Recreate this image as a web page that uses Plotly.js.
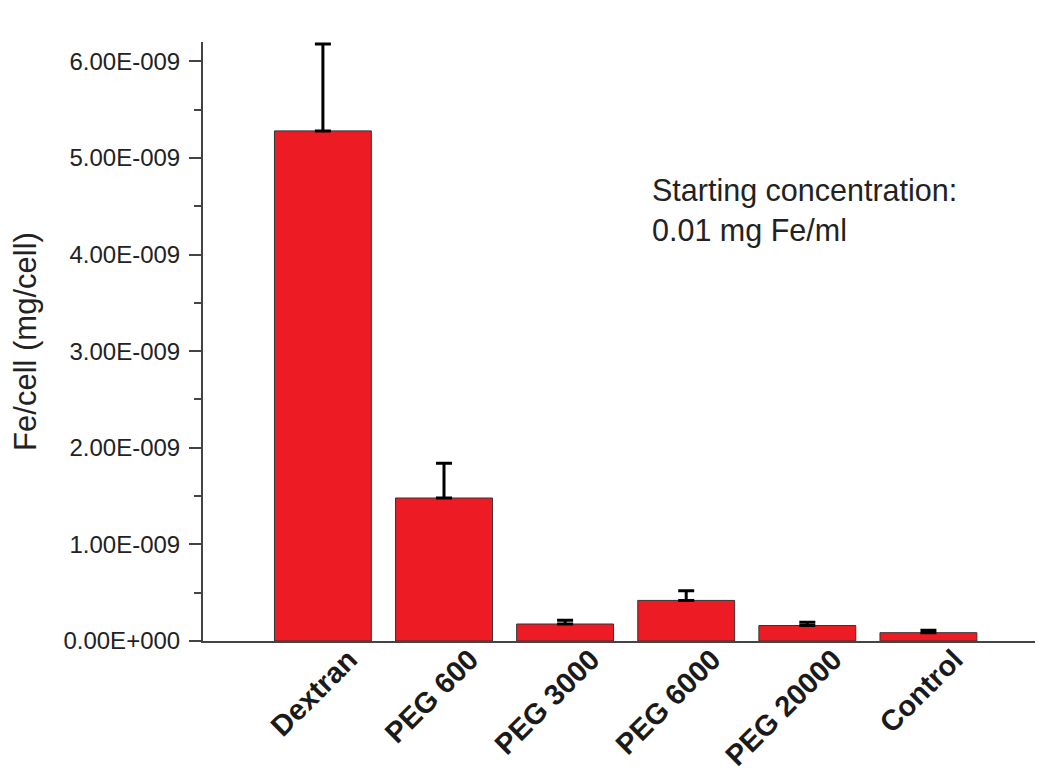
<!DOCTYPE html>
<html>
<head>
<meta charset="utf-8">
<script src="https://cdn.plot.ly/plotly-3.0.1.min.js"></script>
<style>html,body{margin:0;padding:0;background:#fff;}#chart{width:1039px;height:775px;}</style>
</head>
<body>
<div id="chart"></div>
<script>
const categories = ["Dextran", "PEG 600", "PEG 3000", "PEG 6000", "PEG 20000", "Control"];
const values = [5.28e-9, 1.48e-9, 0.176e-9, 0.42e-9, 0.16e-9, 0.086e-9];
const errors = [0.90e-9, 0.36e-9, 0.04e-9, 0.10e-9, 0.035e-9, 0.025e-9];
const yTickVals = [0, 1e-9, 2e-9, 3e-9, 4e-9, 5e-9, 6e-9];
const yTickText = ["0.00E+000", "1.00E-009", "2.00E-009", "3.00E-009", "4.00E-009", "5.00E-009", "6.00E-009"];

const FONT = "Liberation Sans, Arial, sans-serif";

const trace = {
  type: "bar",
  x: categories,
  y: values,
  width: 0.8,
  marker: {color: "#ED1C24", line: {color: "#333", width: 1}},
  error_y: {type: "data", array: errors, symmetric: false, arrayminus: errors.map(() => 0), visible: true, color: "#000", thickness: 3, width: 8}
};

const layout = {
  width: 1039, height: 775,
  margin: {l: 203, r: 4, t: 42, b: 134},
  paper_bgcolor: "#fff", plot_bgcolor: "#fff",
  showlegend: false,
  font: {family: FONT, color: "#222"},
  xaxis: {
    type: "category",
    range: [-0.99, 5.88],
    showline: true, linecolor: "#444", linewidth: 2,
    ticks: "", showgrid: false, zeroline: false,
    tickangle: -45,
    tickfont: {size: 29, family: FONT, color: "#1a1a1a", weight: "bold"},
    ticklabelshift: 26,
    ticklabelstandoff: -12
  },
  yaxis: {
    range: [0, 6.2e-9],
    showline: true, linecolor: "#444", linewidth: 2,
    ticks: "outside", ticklen: 12, tickwidth: 2, tickcolor: "#444",
    tickvals: yTickVals, ticktext: yTickText,
    minor: {ticks: "outside", dtick: 0.5e-9, tick0: 0, ticklen: 7, tickwidth: 2, tickcolor: "#444", showgrid: false},
    showgrid: false, zeroline: false,
    tickfont: {size: 24, color: "#222"},
    ticklabelstandoff: 4,
    title: {text: "Fe/cell (mg/cell)", font: {size: 31, color: "#222"}, standoff: 18}
  },
  annotations: [{
    xref: "paper", yref: "paper",
    x: (650 - 203) / 832, y: (641 - 171) / 599,
    xanchor: "left", yanchor: "top", align: "left",
    showarrow: false,
    text: "Starting concentration:<br>0.01 mg Fe/ml",
    font: {size: 30.5, color: "#222"}
  }]
};

Plotly.newPlot("chart", [trace], layout, {displayModeBar: false});
</script>
</body>
</html>
